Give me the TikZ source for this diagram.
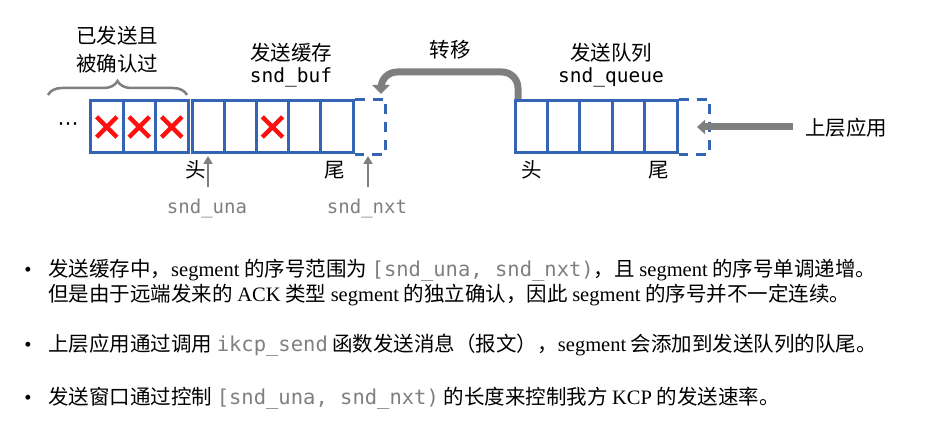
\documentclass[tikz,border=0pt]{standalone}
\usepackage{fontspec}
\setmainfont{Noto Sans CJK SC}
\newfontfamily\latfont{Liberation Serif}
\newfontfamily\symfont{DejaVu Sans}
\setmonofont{DejaVu Sans Mono}
\usetikzlibrary{arrows.meta,decorations.pathreplacing,shapes.misc}
\definecolor{boxblue}{HTML}{3465B4}
\definecolor{xred}{HTML}{FF1010}
\definecolor{arrgray}{HTML}{7F7F7F}
\newcommand{\code}[1]{{\ttfamily\color{arrgray}#1}}
\begin{document}
\begin{tikzpicture}[x=1pt,y=-1pt,
  every node/.style={inner sep=0pt, font=\fontsize{20.5}{24}\selectfont},
  cellA/.style={draw=boxblue, line width=3pt, minimum width=32.5pt, minimum height=52pt},
  cellB/.style={draw=boxblue, line width=3pt, minimum width=32.2pt, minimum height=52pt},
  cellQ/.style={draw=boxblue, line width=3pt, minimum width=32.4pt, minimum height=52pt},
  dashcell/.style={draw=boxblue, line width=3pt, dash pattern=on 10pt off 8pt},
  xmark/.style={cross out, draw=xred, line width=4.4pt, minimum size=16pt},
  bigarrow/.style={draw=arrgray, line width=7pt},
  smallarrow/.style={draw=arrgray, line width=2.5pt, -{Triangle[width=9pt,length=8pt]}},
  monolabel/.style={font=\fontsize{19.5}{22}\selectfont\ttfamily},
  graylabel/.style={font=\fontsize{19}{22}\selectfont\ttfamily, text=arrgray},
  bodyline/.style={anchor=base west},
  bulletmark/.style={anchor=base, font=\fontsize{20.5}{24}\selectfont\latfont}
]
\useasboundingbox (0,0) rectangle (927,433);

% ---- acknowledged cells
\node[cellA] (a1) at (106.75,127) {};
\node[cellA] (a2) at (139.25,127) {};
\node[cellA] (a3) at (171.75,127) {};
\node[xmark] (x1) at (a1) {};
\node[xmark] (x2) at (a2) {};
\node[xmark] (x3) at (a3) {};
\node[font=\fontsize{21}{24}\selectfont\symfont] (dots) at (68,127) {⋯};

% ---- send buffer
\node[cellB] (b1) at (208.1,127) {};
\node[cellB] (b2) at (240.3,127) {};
\node[cellB] (b3) at (272.5,127) {};
\node[cellB] (b4) at (304.7,127) {};
\node[cellB] (b5) at (336.9,127) {};
\node[xmark] (x4) at (b3) {};
\draw[dashcell] (b5.north east) -- ++(31,0) |- (b5.south east);

% ---- send queue
\node[cellQ] (q1) at (531.2,127) {};
\node[cellQ] (q2) at (563.6,127) {};
\node[cellQ] (q3) at (596,127) {};
\node[cellQ] (q4) at (628.4,127) {};
\node[cellQ] (q5) at (660.8,127) {};
\draw[dashcell] (q5.north east) -- ++(31,0) |- (q5.south east);

% ---- brace and labels
\draw[draw=arrgray, line width=2.5pt, decorate, decoration={brace, amplitude=14pt}]
  (48,95) -- (187,95);
\node[anchor=base] (acked1) at (117,44) {已发送且};
\node[anchor=base] (acked2) at (117,72) {被确认过};

\node[anchor=base] (buftitle) at (291,61) {发送缓存};
\node[anchor=base, monolabel] (bufname) at (291,83) {snd\_buf};
\node[anchor=base] (quetitle) at (611,61) {发送队列};
\node[anchor=base, monolabel] (quename) at (611,83) {snd\_queue};
\node[anchor=base] (move) at (450,58) {转移};

\node[anchor=base] (bhead) at (196,178) {头};
\node[anchor=base] (btail) at (335,178) {尾};
\node[anchor=base] (qhead) at (532,178) {头};
\node[anchor=base] (qtail) at (659,178) {尾};

\node[anchor=base, graylabel] (una) at (207,213) {snd\_una};
\node[anchor=base, graylabel] (nxt) at (367,213) {snd\_nxt};
\coordinate (unafrom) at (208,187);
\coordinate (unato) at (208,156);
\coordinate (nxtfrom) at (368,187);
\coordinate (nxtto) at (368,156);
\draw[smallarrow] (unafrom) -- (unato);
\draw[smallarrow] (nxtfrom) -- (nxtto);

% ---- transfer arrow
\coordinate (tstart) at (518,99);
\coordinate (tend) at (381,94);
\draw[bigarrow, rounded corners=16pt, -{Triangle[width=17pt,length=9pt]}]
  (tstart) -- (518,72) -- (381,72) -- (tend);

% ---- upper application
\node[anchor=base west] (app) at (805,136) {上层应用};
\coordinate (appfrom) at (793,127);
\coordinate (appto) at (697,127);
\draw[bigarrow, -{Triangle[width=14pt,length=8pt]}] (appfrom) -- (appto);

% ---- bullet text
\node[bulletmark] (m1) at (28,276) {•};
\node[bodyline] (l1) at (48,276) {发送缓存中，{\latfont segment} 的序号范围为 \code{[snd\_una, snd\_nxt)}，且 {\latfont segment} 的序号单调递增。};
\node[bodyline] (l2) at (48,301) {但是由于远端发来的 {\latfont ACK} 类型 {\latfont segment} 的独立确认，因此 {\latfont segment} 的序号并不一定连续。};
\node[bulletmark] (m2) at (28,351) {•};
\node[bodyline] (l3) at (48,351) {上层应用通过调用 \code{ikcp\_send} 函数发送消息（报文），{\latfont segment} 会添加到发送队列的队尾。};
\node[bulletmark] (m3) at (28,404) {•};
\node[bodyline] (l4) at (48,404) {发送窗口通过控制 \code{[snd\_una, snd\_nxt)} 的长度来控制我方 {\latfont KCP} 的发送速率。};
\end{tikzpicture}
\end{document}
